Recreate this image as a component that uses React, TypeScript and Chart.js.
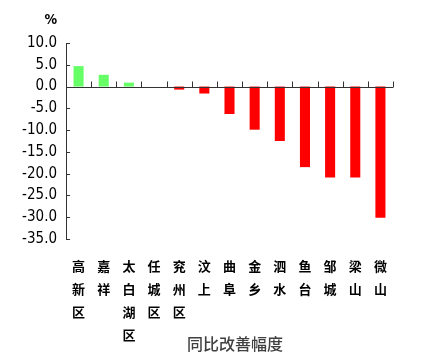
import React, { useEffect, useRef } from "react";
import { Chart, registerables } from "chart.js";

Chart.register(...registerables);

const categories: string[][] = [
  ["高", "新", "区"],
  ["嘉", "祥"],
  ["太", "白", "湖", "区"],
  ["任", "城", "区"],
  ["兖", "州", "区"],
  ["汶", "上"],
  ["曲", "阜"],
  ["金", "乡"],
  ["泗", "水"],
  ["鱼", "台"],
  ["邹", "城"],
  ["梁", "山"],
  ["微", "山"],
];
const values: number[] = [4.7, 2.7, 0.9, 0.0, -0.7, -1.6, -6.3, -9.9, -12.5, -18.5, -20.9, -20.9, -30.1];
const yMin = -35;
const yMax = 10;
const yStep = 5;
const unitLabel = "%";
const axisTitle = "同比改善幅度";

const NUM_FONT = '"Liberation Sans Narrow", "DejaVu Sans Condensed", "Liberation Sans", Arial, sans-serif';
const CJK_FONT = '"Noto Sans CJK SC", "Noto Sans", sans-serif';
const AXIS_COLOR = "#333333";

export default function App() {
  const ref = useRef<HTMLCanvasElement | null>(null);

  useEffect(() => {
    document.body.style.margin = "0";
    const canvas = ref.current;
    if (!canvas) return;

    const decorations = {
      id: "decorations",
      afterDraw(chart: any) {
        const ctx = chart.ctx;
        const x = chart.scales.x;
        const y = chart.scales.y;
        ctx.save();
        ctx.strokeStyle = AXIS_COLOR;
        ctx.lineWidth = 1;
        ctx.beginPath();
        ctx.moveTo(x.left + 0.5, y.top);
        ctx.lineTo(x.left + 0.5, y.bottom);
        ctx.stroke();
        y.ticks.forEach((t: any) => {
          const py = Math.round(y.getPixelForValue(t.value)) + 0.5;
          ctx.beginPath();
          ctx.moveTo(x.left, py);
          ctx.lineTo(x.left + 4, py);
          ctx.stroke();
        });
        const y0 = Math.round(y.getPixelForValue(0)) + 0.5;
        ctx.beginPath();
        ctx.moveTo(x.left, y0);
        ctx.lineTo(x.right, y0);
        ctx.stroke();
        for (let i = 0; i <= categories.length; i++) {
          const px = Math.round(x.getPixelForValue(i - 0.5)) + 0.5;
          ctx.beginPath();
          ctx.moveTo(px, y0);
          ctx.lineTo(px, y0 - 6);
          ctx.stroke();
        }
        ctx.fillStyle = "#000";
        ctx.font = "bold 14px " + NUM_FONT;
        ctx.textAlign = "right";
        ctx.textBaseline = "middle";
        ctx.fillText(unitLabel, x.left - 9, 20);
        ctx.fillStyle = "#404040";
        ctx.font = "500 16px " + CJK_FONT;
        ctx.textAlign = "center";
        ctx.textBaseline = "middle";
        ctx.fillText(axisTitle, 235, 344);
        ctx.restore();
      },
    };

    const chart = new Chart(canvas, {
      type: "bar",
      data: {
        labels: categories as any,
        datasets: [
          {
            data: values,
            backgroundColor: values.map((v) => (v >= 0 ? "#66ff66" : "#ff0000")),
            borderWidth: 0,
            categoryPercentage: 1,
            barPercentage: 0.4,
          },
        ],
      },
      options: {
        responsive: false,
        animation: false,
        layout: { padding: { left: 0, top: 43, right: 31, bottom: 0 } },
        plugins: {
          legend: { display: false },
          tooltip: { enabled: false },
          title: { display: false },
        },
        scales: {
          x: {
            grid: { display: false, drawTicks: false },
            border: { display: false },
            ticks: {
              color: "#000",
              maxRotation: 0,
              minRotation: 0,
              autoSkip: false,
              padding: 16,
              font: { family: CJK_FONT, size: 13, weight: "bold", lineHeight: 1.75 },
            },
            afterFit(scale: any) {
              scale.height = 123;
            },
          },
          y: {
            min: yMin,
            max: yMax,
            grid: { display: false, drawTicks: false },
            border: { display: false },
            ticks: {
              stepSize: yStep,
              color: "#000",
              padding: 9,
              font: { family: NUM_FONT, size: 15 },
              callback: (v: any) => Number(v).toFixed(1),
            },
            afterFit(scale: any) {
              scale.width = 66;
            },
          },
        },
      },
      plugins: [decorations],
    });

    return () => chart.destroy();
  }, []);

  return <canvas ref={ref} width={424} height={362} style={{ display: "block" }} />;
}
